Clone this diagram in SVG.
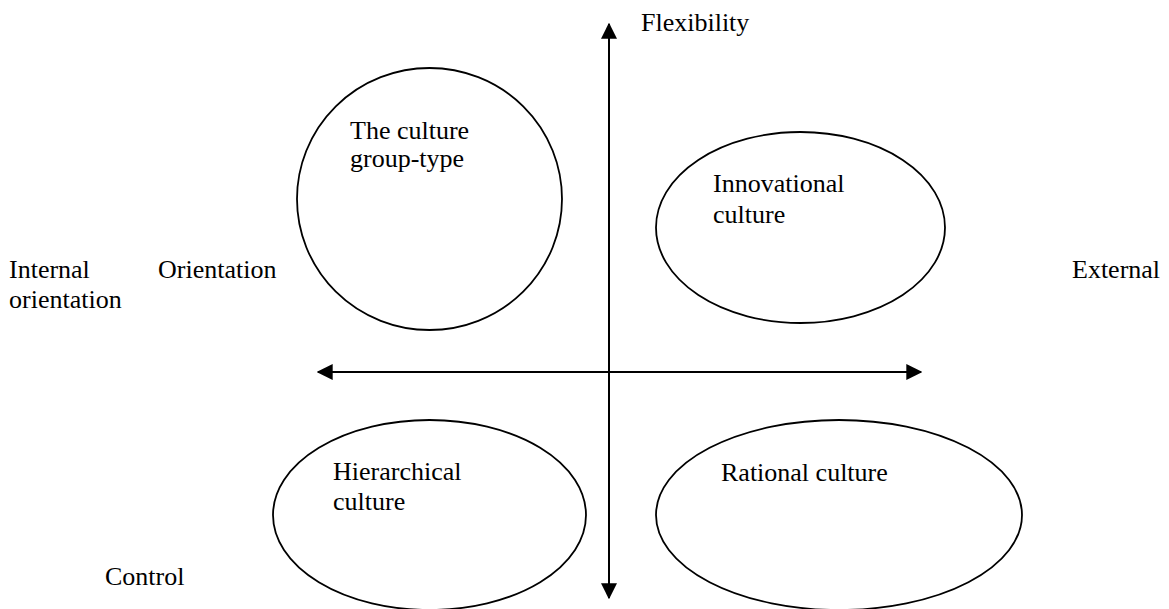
<svg xmlns="http://www.w3.org/2000/svg" width="1169" height="609" viewBox="0 0 1169 609">
<defs>
<style>
text{font-family:"Liberation Serif","Times New Roman",serif;font-size:26px;fill:#000}
.shape{fill:none;stroke:#000;stroke-width:1.8}
.axis{stroke:#000;stroke-width:2;fill:none}
</style>
<marker id="arr" viewBox="0 0 12 12" refX="11" refY="6" markerWidth="8" markerHeight="8" markerUnits="strokeWidth" orient="auto-start-reverse">
<path d="M0,0 L12,6 L0,12 Z" fill="#000"/>
</marker>
</defs>
<rect width="1169" height="609" fill="#fff"/>
<g id="connectors">
<line class="axis" x1="609" y1="24" x2="609" y2="598" marker-start="url(#arr)" marker-end="url(#arr)"/>
<line class="axis" x1="318" y1="372" x2="921" y2="372" marker-start="url(#arr)" marker-end="url(#arr)"/>
</g>
<g id="group-type">
<ellipse class="shape" cx="429.5" cy="199" rx="132.5" ry="131"/>
<text x="350" y="139">The culture</text>
<text x="350" y="167">group-type</text>
</g>
<g id="innovational">
<ellipse class="shape" cx="800.5" cy="227.5" rx="144.5" ry="95.5"/>
<text x="713" y="192">Innovational</text>
<text x="713" y="223">culture</text>
</g>
<g id="hierarchical">
<ellipse class="shape" cx="429.5" cy="515" rx="156.5" ry="95"/>
<text x="333" y="480">Hierarchical</text>
<text x="333" y="510">culture</text>
</g>
<g id="rational">
<ellipse class="shape" cx="839" cy="515" rx="183" ry="95"/>
<text x="721" y="481">Rational culture</text>
</g>
<g id="labels">
<text x="641" y="31">Flexibility</text>
<text x="9" y="278">Internal</text>
<text x="9" y="308">orientation</text>
<text x="158" y="278">Orientation</text>
<text x="1072" y="278">External</text>
<text x="105" y="585">Control</text>
</g>
</svg>
